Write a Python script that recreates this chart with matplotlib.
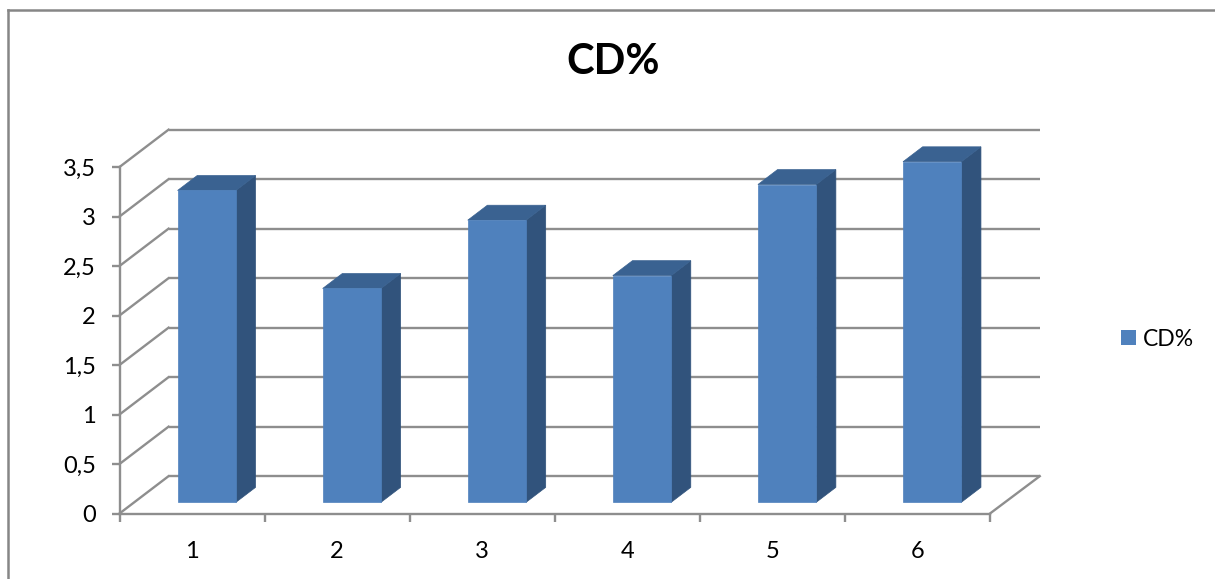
import numpy as np
import matplotlib
matplotlib.use('Agg')
import matplotlib.pyplot as plt
from matplotlib.patches import Polygon, Patch

categories = ['1', '2', '3', '4', '5', '6']
cd_values = [3.15, 2.16, 2.85, 2.29, 3.21, 3.44]
y_ticks = [0, 0.5, 1, 1.5, 2, 2.5, 3, 3.5]
y_tick_labels = ['0', '0,5', '1', '1,5', '2', '2,5', '3', '3,5']

GRID = '#8e8e8e'
FRONT = '#4f81bd'
SIDE = '#31537c'
TOP = '#3a6291'
LW = 1.7

# oblique projection of the depth axis, in data units per full depth
DEPTH_X = 0.338
DEPTH_Y = 0.377

plt.rcParams['font.family'] = ['Lato', 'DejaVu Sans']

W, H = 1215, 579
fig = plt.figure(figsize=(W / 100, H / 100), dpi=100)

# chart frame, only top and left edges are in view
fig.add_artist(plt.Line2D([8 / W, 8 / W], [0, 1 - 10 / H], color='#868686', lw=1.8))
fig.add_artist(plt.Line2D([8 / W, 1], [1 - 10 / H, 1 - 10 / H], color='#868686', lw=1.8))

ax = fig.add_axes([119.5 / W, 1 - 513.5 / H, 870.5 / W, 346.5 / H])
n = len(categories)
ax.set_xlim(0, n)
ax.set_ylim(0, 3.5)

for s in ['top', 'right']:
    ax.spines[s].set_visible(False)
for s in ['left', 'bottom']:
    ax.spines[s].set_color(GRID)
    ax.spines[s].set_linewidth(LW)

# back wall gridlines and their slanted returns to the value axis
for v in y_ticks:
    ax.plot([DEPTH_X, n + DEPTH_X + 0.005], [v + DEPTH_Y, v + DEPTH_Y], color=GRID, lw=LW,
            clip_on=False, zorder=1, solid_capstyle='butt')
    ax.plot([0, DEPTH_X], [v, v + DEPTH_Y], color=GRID, lw=LW, clip_on=False, zorder=1)
# right edge of the floor
ax.plot([n, n + DEPTH_X + 0.005], [0, DEPTH_Y], color=GRID, lw=LW, clip_on=False, zorder=1)

# 3d bars: front face, side face and top face
bar_w = 0.402
for i, val in enumerate(cd_values):
    x0 = i + 0.5 - bar_w / 2 + 0.3 * DEPTH_X
    x1 = x0 + bar_w
    y0 = 0.3 * DEPTH_Y
    y1 = y0 + val
    sx = 0.4 * DEPTH_X
    sy = 0.4 * DEPTH_Y
    ax.add_patch(Polygon([(x1, y0), (x1 + sx, y0 + sy), (x1 + sx, y1 + sy), (x1, y1)],
                         fc=SIDE, ec=SIDE, lw=0.5, zorder=3, clip_on=False))
    ax.add_patch(Polygon([(x0, y1), (x0 + sx, y1 + sy), (x1 + sx, y1 + sy), (x1, y1)],
                         fc=TOP, ec=TOP, lw=0.5, zorder=3, clip_on=False))
    ax.add_patch(Polygon([(x0, y0), (x1, y0), (x1, y1), (x0, y1)],
                         fc=FRONT, ec=FRONT, lw=0.5, zorder=4, clip_on=False))

ax.set_yticks(y_ticks)
ax.set_yticklabels(y_tick_labels, fontsize=17)
ax.set_xticks(np.arange(n + 1))
ax.set_xticklabels([''] * (n + 1))
ax.tick_params(axis='both', color=GRID, width=LW, length=6)
ax.tick_params(axis='y', pad=11)
for i, c in enumerate(categories):
    ax.annotate(c, (i + 0.5, 0), xytext=(0, -27), textcoords='offset points', ha='center',
                va='center', fontsize=17, annotation_clip=False)

fig.text(613 / W, 1 - 62 / H, 'CD%', ha='center', va='center', fontsize=30, fontweight='bold')

fig.legend(handles=[Patch(fc=FRONT, label='CD%')], loc='center left',
           bbox_to_anchor=(1121 / W, 1 - 339 / H), frameon=False, fontsize=16.5,
           handlelength=0.65, handleheight=0.65, handletextpad=0.3, borderpad=0, borderaxespad=0)

fig.savefig('out.png', dpi=100)
